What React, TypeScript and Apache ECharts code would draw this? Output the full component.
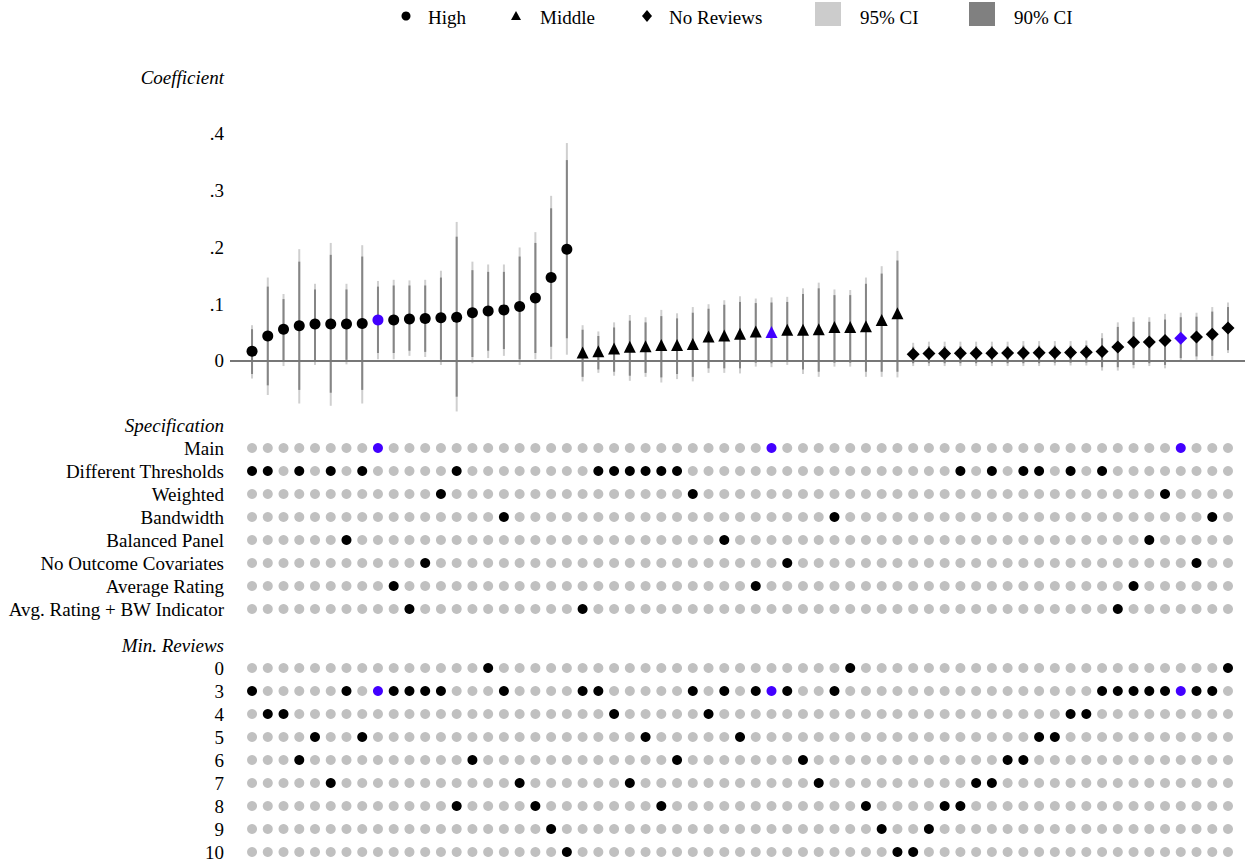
import React, { useEffect, useRef } from 'react';
import * as echarts from 'echarts';

const FONT = "'Liberation Serif', 'Times New Roman', Times, serif";
const FS = 19;
const BLUE = '#4200ff';

// Coefficients per group (21 specifications each), sorted
const highCoef = [0.017, 0.044, 0.056, 0.062, 0.065, 0.065, 0.065, 0.066, 0.072, 0.072, 0.074, 0.075, 0.076, 0.077, 0.085, 0.088, 0.090, 0.096, 0.111, 0.147, 0.197];
const highHi95 = [0.063, 0.147, 0.118, 0.197, 0.136, 0.208, 0.136, 0.204, 0.141, 0.143, 0.142, 0.143, 0.159, 0.245, 0.175, 0.170, 0.170, 0.200, 0.227, 0.291, 0.384];
const highHi90 = [0.056, 0.131, 0.109, 0.175, 0.126, 0.187, 0.126, 0.184, 0.131, 0.133, 0.133, 0.133, 0.147, 0.219, 0.160, 0.157, 0.157, 0.184, 0.208, 0.269, 0.354];
const highLo90 = [-0.023, -0.043, -0.001, -0.051, 0.001, -0.056, 0.002, -0.051, 0.014, 0.014, 0.018, 0.016, 0.002, -0.063, 0.007, 0.018, 0.021, 0.003, 0.014, 0.025, 0.040];
const highLo95 = [-0.031, -0.060, -0.009, -0.075, -0.007, -0.079, -0.006, -0.075, 0.003, 0.003, 0.009, 0.007, -0.007, -0.089, -0.004, 0.005, 0.009, -0.007, 0.003, 0.003, 0.011];

const midCoef = [0.015, 0.017, 0.022, 0.025, 0.026, 0.028, 0.028, 0.030, 0.043, 0.045, 0.048, 0.052, 0.051, 0.055, 0.055, 0.056, 0.060, 0.060, 0.061, 0.072, 0.084];
const midHi95 = [0.063, 0.052, 0.068, 0.081, 0.077, 0.090, 0.084, 0.095, 0.100, 0.107, 0.114, 0.110, 0.112, 0.113, 0.128, 0.138, 0.126, 0.125, 0.147, 0.167, 0.194];
const midHi90 = [0.055, 0.044, 0.059, 0.071, 0.068, 0.079, 0.075, 0.085, 0.092, 0.099, 0.104, 0.102, 0.103, 0.104, 0.118, 0.128, 0.116, 0.116, 0.136, 0.154, 0.177];
const midLo90 = [-0.028, -0.015, -0.019, -0.026, -0.021, -0.029, -0.023, -0.028, -0.013, -0.013, -0.013, -0.003, -0.004, 0.000, -0.015, -0.019, -0.003, -0.003, -0.019, -0.019, -0.019];
const midLo95 = [-0.036, -0.021, -0.026, -0.035, -0.028, -0.038, -0.032, -0.036, -0.021, -0.021, -0.022, -0.010, -0.011, -0.007, -0.023, -0.028, -0.010, -0.010, -0.028, -0.028, -0.029];

const noRevCoef = [0.012, 0.013, 0.013, 0.0135, 0.0135, 0.0135, 0.014, 0.014, 0.0145, 0.0145, 0.015, 0.0155, 0.0165, 0.0245, 0.033, 0.0335, 0.036, 0.040, 0.042, 0.047, 0.058];
const noRevHi95 = [0.032, 0.034, 0.034, 0.034, 0.034, 0.034, 0.034, 0.035, 0.035, 0.035, 0.035, 0.036, 0.049, 0.068, 0.077, 0.077, 0.083, 0.085, 0.085, 0.095, 0.103];
const noRevHi90 = [0.025, 0.026, 0.026, 0.026, 0.026, 0.026, 0.026, 0.027, 0.027, 0.027, 0.027, 0.028, 0.040, 0.060, 0.069, 0.069, 0.073, 0.077, 0.078, 0.087, 0.095];
const noRevLo90 = [-0.004, -0.004, -0.004, -0.004, -0.004, -0.004, -0.004, -0.004, -0.004, -0.003, -0.003, -0.003, -0.011, -0.011, -0.007, -0.004, -0.007, 0.005, 0.008, 0.009, 0.019];
const noRevLo95 = [-0.009, -0.009, -0.009, -0.009, -0.009, -0.009, -0.009, -0.009, -0.009, -0.008, -0.008, -0.008, -0.017, -0.017, -0.013, -0.009, -0.013, -0.001, 0.002, 0.001, 0.014];

// index of the main specification inside each group
const mainIndex = [8, 12, 17];

// Specification matrix
const specRows = ['Main', 'Different Thresholds', 'Weighted', 'Bandwidth', 'Balanced Panel', 'No Outcome Covariates', 'Average Rating', 'Avg. Rating + BW Indicator'];
const colSpecIndex = [
  1, 1, -1, 1, -1, 1, 4, 1, 0, 6, 7, 5, 2, 1, -1, -1, 3, -1, -1, -1, -1,
  7, 1, 1, 1, 1, 1, 1, 2, -1, 4, -1, 6, 0, 5, -1, -1, 3, -1, -1, -1, -1,
  -1, -1, -1, 1, -1, 1, -1, 1, 1, -1, 1, -1, 1, 7, 6, 4, 2, 0, 5, 3, -1,
];
const minReviewRows = ['0', '3', '4', '5', '6', '7', '8', '9', '10'];
const colMinReviews = [
  3, 4, 4, 6, 5, 7, 3, 5, 3, 3, 3, 3, 3, 8, 6, 0, 3, 7, 8, 9, 10,
  3, 3, 4, 7, 5, 8, 6, 3, 4, 3, 5, 3, 3, 3, 6, 7, 3, 0, 8, 9, 10,
  10, 9, 8, 8, 7, 7, 6, 6, 5, 5, 4, 4, 3, 3, 3, 3, 3, 3, 3, 3, 0,
];

const groups = [
  { name: 'High', symbol: 'circle', size: 11, coef: highCoef, lo95: highLo95, lo90: highLo90, hi90: highHi90, hi95: highHi95 },
  { name: 'Middle', symbol: 'triangle', size: 12, coef: midCoef, lo95: midLo95, lo90: midLo90, hi90: midHi90, hi95: midHi95 },
  { name: 'No Reviews', symbol: 'diamond', size: 13, coef: noRevCoef, lo95: noRevLo95, lo90: noRevLo90, hi90: noRevHi90, hi95: noRevHi95 },
];

const X_MIN = -1.4;
const X_MAX = 63.08;

function buildOption() {
  const ciData: number[][] = [];
  const pointSeries: any[] = [];
  const mainCols: number[] = [];
  let offset = 0;
  groups.forEach((g, gi) => {
    const data: any[] = [];
    g.coef.forEach((v, i) => {
      const col = offset + i;
      ciData.push([col, g.lo95[i], g.hi95[i], g.lo90[i], g.hi90[i]]);
      if (i === mainIndex[gi]) {
        mainCols.push(col);
        data.push({ value: [col, v], itemStyle: { color: BLUE } });
      } else {
        data.push([col, v]);
      }
    });
    pointSeries.push({
      type: 'scatter',
      name: g.name,
      xAxisIndex: 0,
      yAxisIndex: 0,
      symbol: g.symbol,
      symbolSize: g.size,
      itemStyle: { color: '#000', opacity: 1 },
      data,
      z: 5,
      silent: true,
    });
    offset += g.coef.length;
  });
  const nCols = offset;

  // spec matrix
  const specGray: any[] = [];
  const specBlack: any[] = [];
  const specBlue: any[] = [];
  specRows.forEach((row, ri) => {
    for (let c = 0; c < nCols; c++) {
      if (colSpecIndex[c] === ri) {
        if (mainCols.includes(c)) specBlue.push([c, row]);
        else specBlack.push([c, row]);
      } else specGray.push([c, row]);
    }
  });
  const mrGray: any[] = [];
  const mrBlack: any[] = [];
  const mrBlue: any[] = [];
  minReviewRows.forEach((row) => {
    for (let c = 0; c < nCols; c++) {
      if (String(colMinReviews[c]) === row) {
        if (mainCols.includes(c)) mrBlue.push([c, row]);
        else mrBlack.push([c, row]);
      } else mrGray.push([c, row]);
    }
  });

  const dotSeries = (xi: number, data: any[], color: string, size: number) => ({
    type: 'scatter',
    xAxisIndex: xi,
    yAxisIndex: xi,
    symbol: 'circle',
    symbolSize: size,
    itemStyle: { color, opacity: 1 },
    data,
    silent: true,
    z: color === '#c0c0c0' ? 2 : 3,
  });

  const catLabel = {
    margin: 6,
    interval: 0,
    hideOverlap: false,
    color: '#000',
    fontFamily: FONT,
    fontSize: FS,
    formatter: (v: string, i: number) => (i === 0 ? '{h|' + v + '}' : v),
    rich: { h: { fontStyle: 'italic', fontFamily: FONT, fontSize: FS, color: '#000' } },
  };

  const hiddenX = (gi: number) => ({
    gridIndex: gi,
    type: 'value',
    min: X_MIN,
    max: X_MAX,
    show: false,
  });

  const legendY = 16;
  const legendText = (x: number, text: string) => ({
    type: 'text',
    x,
    y: legendY + 1,
    style: { text, fill: '#000', fontFamily: FONT, fontSize: FS, align: 'left', verticalAlign: 'middle' },
  });

  return {
    animation: false,
    backgroundColor: '#fff',
    grid: [
      { left: 230, right: 0, top: 105.6, height: 312.1 },
      { left: 230, right: 0, top: 413.5, height: 207 },
      { left: 230, right: 0, top: 633.5, height: 230 },
    ],
    xAxis: [hiddenX(0), hiddenX(1), hiddenX(2)],
    yAxis: [
      {
        gridIndex: 0,
        type: 'value',
        min: -0.1,
        max: 0.45,
        interval: 0.1,
        axisLine: { show: false },
        axisTick: { show: false },
        splitLine: { show: false },
        axisLabel: {
          margin: 6,
          color: '#000',
          fontFamily: FONT,
          fontSize: FS,
          formatter: (v: number) => {
            if (v < -0.001 || v > 0.41) return '';
            if (Math.abs(v) < 1e-9) return '0';
            return '.' + Math.round(v * 10);
          },
        },
      },
      {
        gridIndex: 1,
        type: 'category',
        inverse: true,
        data: ['Specification', ...specRows],
        axisLine: { show: false },
        axisTick: { show: false },
        splitLine: { show: false },
        axisLabel: catLabel,
      },
      {
        gridIndex: 2,
        type: 'category',
        inverse: true,
        data: ['Min. Reviews', ...minReviewRows],
        axisLine: { show: false },
        axisTick: { show: false },
        splitLine: { show: false },
        axisLabel: catLabel,
      },
    ],
    graphic: [
      {
        type: 'text',
        x: 224,
        y: 77,
        style: { text: 'Coefficient', fill: '#000', fontFamily: FONT, fontSize: FS, fontStyle: 'italic', align: 'right', verticalAlign: 'middle' },
      },
      { type: 'circle', shape: { cx: 406, cy: legendY, r: 4.5 }, style: { fill: '#000' } },
      legendText(428, 'High'),
      { type: 'polygon', shape: { points: [[516, legendY - 5], [521, legendY + 4], [511, legendY + 4]] }, style: { fill: '#000' } },
      legendText(540, 'Middle'),
      { type: 'polygon', shape: { points: [[647, legendY - 6], [652, legendY], [647, legendY + 6], [642, legendY]] }, style: { fill: '#000' } },
      legendText(669, 'No Reviews'),
      { type: 'rect', shape: { x: 815, y: 2, width: 26, height: 24 }, style: { fill: '#cccccc' } },
      legendText(860, '95% CI'),
      { type: 'rect', shape: { x: 969, y: 2, width: 26, height: 24 }, style: { fill: '#808080' } },
      legendText(1014, '90% CI'),
    ],
    series: [
      {
        type: 'custom',
        name: 'CI',
        xAxisIndex: 0,
        yAxisIndex: 0,
        data: ciData,
        encode: { x: 0, y: [1, 2, 3, 4] },
        silent: true,
        z: 1,
        renderItem: (params: any, api: any) => {
          const x = api.value(0);
          const a95 = api.coord([x, api.value(1)]);
          const b95 = api.coord([x, api.value(2)]);
          const a90 = api.coord([x, api.value(3)]);
          const b90 = api.coord([x, api.value(4)]);
          return {
            type: 'group',
            children: [
              { type: 'line', shape: { x1: a95[0], y1: a95[1], x2: b95[0], y2: b95[1] }, style: { stroke: '#cfcfcf', lineWidth: 2 } },
              { type: 'line', shape: { x1: a90[0], y1: a90[1], x2: b90[0], y2: b90[1] }, style: { stroke: '#858585', lineWidth: 2 } },
            ],
          };
        },
      },
      {
        type: 'line',
        name: 'zero',
        xAxisIndex: 0,
        yAxisIndex: 0,
        data: [],
        silent: true,
        z: 2,
        markLine: {
          silent: true,
          symbol: ['none', 'none'],
          label: { show: false },
          lineStyle: { color: '#777777', width: 2, type: 'solid' },
          data: [{ yAxis: 0 }],
        },
      },
      ...pointSeries,
      dotSeries(1, specGray, '#c0c0c0', 10),
      dotSeries(1, specBlack, '#000000', 10),
      dotSeries(1, specBlue, BLUE, 10),
      dotSeries(2, mrGray, '#c0c0c0', 10),
      dotSeries(2, mrBlack, '#000000', 10),
      dotSeries(2, mrBlue, BLUE, 10),
    ],
  };
}

export default function App() {
  const ref = useRef<HTMLDivElement>(null);
  useEffect(() => {
    document.body.style.margin = '0';
    const chart = echarts.init(ref.current as HTMLDivElement, null, { renderer: 'svg' });
    chart.setOption(buildOption() as any);
    return () => chart.dispose();
  }, []);
  return <div ref={ref} style={{ width: 1245, height: 867 }} />;
}
